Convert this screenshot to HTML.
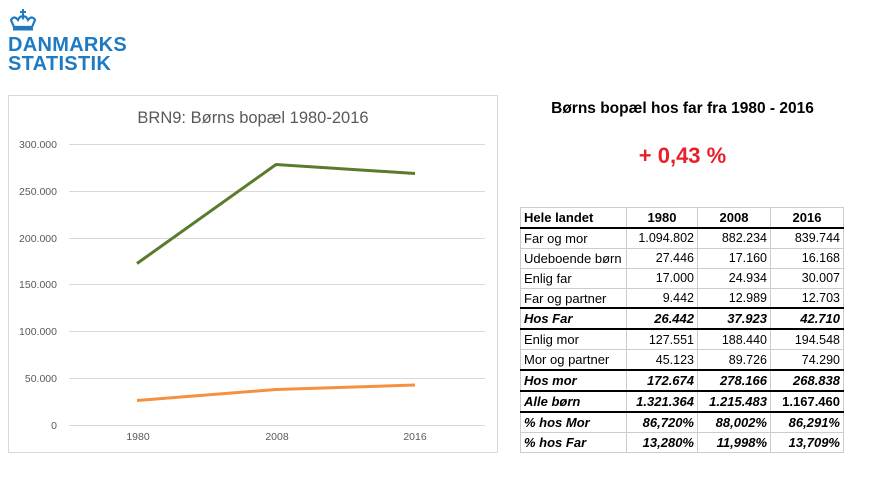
<!DOCTYPE html>
<html><head><meta charset="utf-8"><style>
body{margin:0;width:870px;height:480px;background:#fff;position:relative;overflow:hidden;font-family:"Liberation Sans",sans-serif}
.logo{position:absolute;left:8px;top:8px;color:#1f7ac2;font-weight:bold;font-size:20px;line-height:19px;letter-spacing:0.3px}
table{position:absolute;left:520px;top:207px;border-collapse:collapse;font-size:12.5px}
td{border:1px solid #ccc;height:18.9px;padding:0 3px;text-align:right;white-space:nowrap}
td:first-child{text-align:left;width:99px;font-size:13px}
td.c{width:64px}td.d{width:66px}
tr.h td{font-weight:bold;text-align:center;font-size:13px}
tr.h td:first-child{text-align:left}
tr.b td{font-weight:bold;font-style:italic;font-size:13px}
tr.tb td{border-top:2px solid #000}
</style></head><body>
<div class="logo"><svg width="30" height="24" viewBox="0 0 30 24" style="display:block;margin-bottom:4px"><path d="M3 12 Q6 7 10 12 Q13 6 15 10 Q17 6 20 12 Q24 7 27 12 L24 19 L6 19 Z" fill="none" stroke="#1f7ac2" stroke-width="2.2"/><rect x="5" y="20" width="20" height="2.5" fill="#1f7ac2"/><rect x="14" y="1" width="2" height="7" fill="#1f7ac2"/><rect x="12" y="3" width="6" height="2" fill="#1f7ac2"/></svg>DANMARKS<br>STATISTIK</div>
<svg style="position:absolute;left:0;top:0" width="500" height="460">
<rect x="8.5" y="95.5" width="489" height="357" fill="#fff" stroke="#d9d9d9"/>
<text x="253" y="123" text-anchor="middle" font-size="16.5" fill="#595959" font-family="Liberation Sans,sans-serif">BRN9: Børns bopæl 1980-2016</text>
<g stroke="#d9d9d9" stroke-width="1">
<line x1="69" x2="485" y1="144.5" y2="144.5"/><line x1="69" x2="485" y1="191.5" y2="191.5"/><line x1="69" x2="485" y1="238.5" y2="238.5"/><line x1="69" x2="485" y1="284.5" y2="284.5"/><line x1="69" x2="485" y1="331.5" y2="331.5"/><line x1="69" x2="485" y1="378.5" y2="378.5"/><line x1="69" x2="485" y1="425.5" y2="425.5"/>
</g>
<g font-size="10.5" fill="#595959" text-anchor="end" font-family="Liberation Sans,sans-serif">
<text x="57" y="148">300.000</text><text x="57" y="195">250.000</text><text x="57" y="242">200.000</text><text x="57" y="288">150.000</text><text x="57" y="335">100.000</text><text x="57" y="382">50.000</text><text x="57" y="429">0</text>
</g>
<g font-size="10.5" fill="#595959" text-anchor="middle" font-family="Liberation Sans,sans-serif">
<text x="138" y="440">1980</text><text x="277" y="440">2008</text><text x="415" y="440">2016</text>
</g>
<polyline points="137,263.5 276,164.5 415,173.5" fill="none" stroke="#5a7a2c" stroke-width="3"/>
<polyline points="137,400.5 276,389.5 415,385" fill="none" stroke="#f4913f" stroke-width="3"/>
</svg>
<div style="position:absolute;left:520px;top:100px;width:325px;text-align:center;font-weight:bold;font-size:15.5px">Børns bopæl hos far fra 1980 - 2016</div>
<div style="position:absolute;left:520px;top:143px;width:325px;text-align:center;font-weight:bold;font-size:22px;color:#e8202a">+ 0,43 %</div>
<table>
<tr class="h"><td>Hele landet</td><td class="c">1980</td><td class="d">2008</td><td class="d">2016</td></tr>
<tr class="tb"><td>Far og mor</td><td>1.094.802</td><td>882.234</td><td>839.744</td></tr>
<tr><td>Udeboende børn</td><td>27.446</td><td>17.160</td><td>16.168</td></tr>
<tr><td>Enlig far</td><td>17.000</td><td>24.934</td><td>30.007</td></tr>
<tr><td>Far og partner</td><td>9.442</td><td>12.989</td><td>12.703</td></tr>
<tr class="b tb"><td>Hos Far</td><td>26.442</td><td>37.923</td><td>42.710</td></tr>
<tr class="tb"><td>Enlig mor</td><td>127.551</td><td>188.440</td><td>194.548</td></tr>
<tr><td>Mor og partner</td><td>45.123</td><td>89.726</td><td>74.290</td></tr>
<tr class="b tb"><td>Hos mor</td><td>172.674</td><td>278.166</td><td>268.838</td></tr>
<tr class="b tb"><td>Alle børn</td><td>1.321.364</td><td>1.215.483</td><td style="font-style:normal">1.167.460</td></tr>
<tr class="b tb"><td>% hos Mor</td><td>86,720%</td><td>88,002%</td><td>86,291%</td></tr>
<tr class="b"><td>% hos Far</td><td>13,280%</td><td>11,998%</td><td>13,709%</td></tr>
</table>
</body></html>
